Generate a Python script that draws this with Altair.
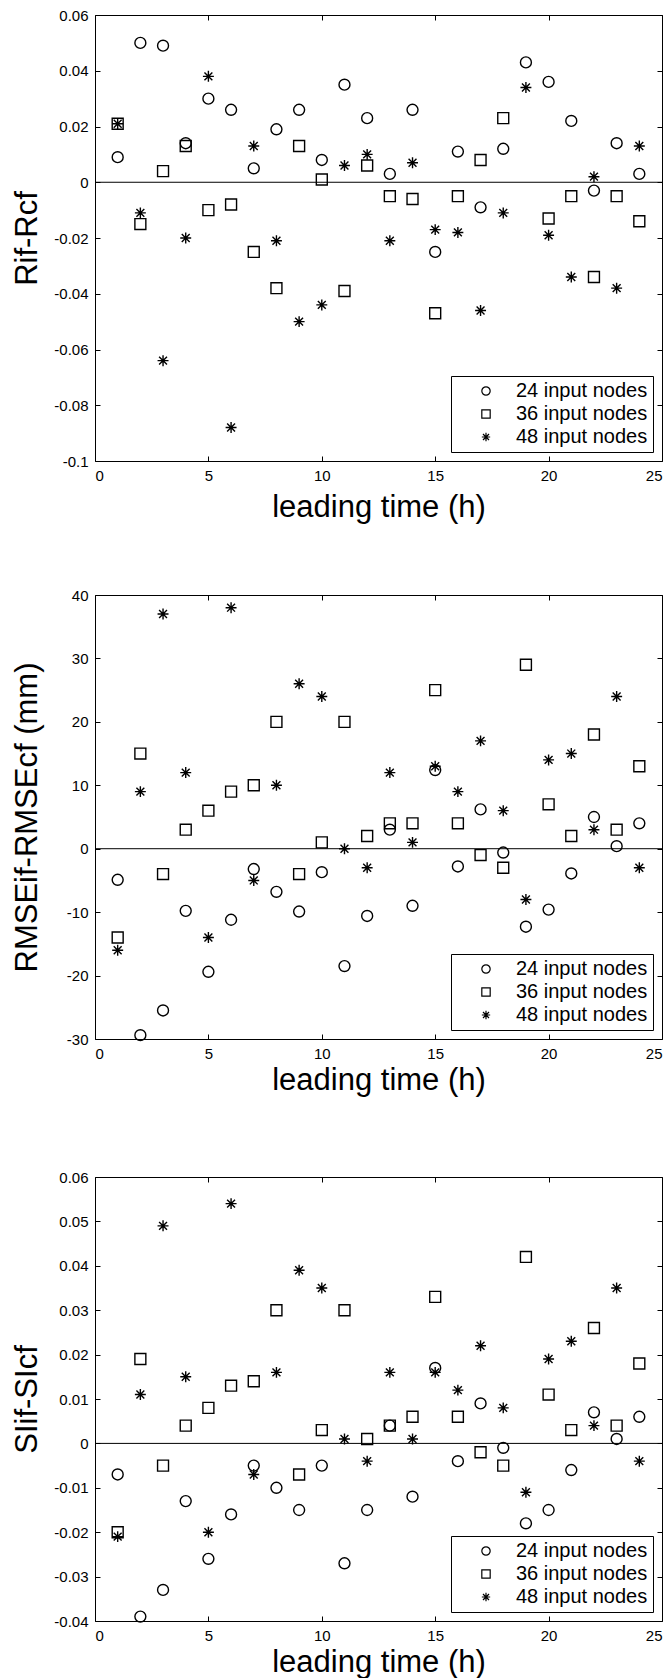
import altair as alt
import pandas as pd

# ---------------- data ----------------
hours = list(range(1, 25))
series_names = ["24 input nodes", "36 input nodes", "48 input nodes"]

# Panel 1: Rif-Rcf
r_24 = [0.009, 0.050, 0.049, 0.014, 0.030, 0.026, 0.005, 0.019, 0.026, 0.008, 0.035, 0.023,
        0.003, 0.026, -0.025, 0.011, -0.009, 0.012, 0.043, 0.036, 0.022, -0.003, 0.014, 0.003]
r_36 = [0.021, -0.015, 0.004, 0.013, -0.010, -0.008, -0.025, -0.038, 0.013, 0.001, -0.039, 0.006,
        -0.005, -0.006, -0.047, -0.005, 0.008, 0.023, None, -0.013, -0.005, -0.034, -0.005, -0.014]
r_48 = [0.021, -0.011, -0.064, -0.020, 0.038, -0.088, 0.013, -0.021, -0.050, -0.044, 0.006, 0.010,
        -0.021, 0.007, -0.017, -0.018, -0.046, -0.011, 0.034, -0.019, -0.034, 0.002, -0.038, 0.013]

# Panel 2: RMSEif-RMSEcf (mm)
e_24 = [-4.9, -29.4, -25.5, -9.8, -19.4, -11.2, -3.2, -6.8, -9.9, -3.7, -18.5, -10.6,
        3.0, -9.0, 12.4, -2.8, 6.2, -0.6, -12.3, -9.6, -3.9, 5.0, 0.4, 4.0]
e_36 = [-14, 15, -4, 3, 6, 9, 10, 20, -4, 1, 20, 2,
        4, 4, 25, 4, -1, -3, 29, 7, 2, 18, 3, 13]
e_48 = [-16, 9, 37, 12, -14, 38, -5, 10, 26, 24, 0, -3,
        12, 1, 13, 9, 17, 6, -8, 14, 15, 3, 24, -3]

# Panel 3: SIif-SIcf
s_24 = [-0.007, -0.039, -0.033, -0.013, -0.026, -0.016, -0.005, -0.010, -0.015, -0.005, -0.027, -0.015,
        0.004, -0.012, 0.017, -0.004, 0.009, -0.001, -0.018, -0.015, -0.006, 0.007, 0.001, 0.006]
s_36 = [-0.020, 0.019, -0.005, 0.004, 0.008, 0.013, 0.014, 0.030, -0.007, 0.003, 0.030, 0.001,
        0.004, 0.006, 0.033, 0.006, -0.002, -0.005, 0.042, 0.011, 0.003, 0.026, 0.004, 0.018]
s_48 = [-0.021, 0.011, 0.049, 0.015, -0.020, 0.054, -0.007, 0.016, 0.039, 0.035, 0.001, -0.004,
        0.016, 0.001, 0.016, 0.012, 0.022, 0.008, -0.011, 0.019, 0.023, 0.004, 0.035, -0.004]

x_ticks = [0, 5, 10, 15, 20, 25]
r_ticks = [-0.1, -0.08, -0.06, -0.04, -0.02, 0, 0.02, 0.04, 0.06]
e_ticks = [-30, -20, -10, 0, 10, 20, 30, 40]
s_ticks = [-0.04, -0.03, -0.02, -0.01, 0, 0.01, 0.02, 0.03, 0.04, 0.05, 0.06]

# ---------------- helpers ----------------
FONT = "Liberation Sans"
STAR = "M-1,0L1,0M0,-1L0,1M-0.72,-0.72L0.72,0.72M-0.72,0.72L0.72,-0.72"
W = 567


def long_df(a, b, c):
    rows = []
    for name, vals in zip(series_names, (a, b, c)):
        for h, v in zip(hours, vals):
            if v is not None:
                rows.append({"h": h, "v": v, "series": name})
    return pd.DataFrame(rows)


LABEL_EXPR = "replace(format(datum.value, '~g'), '\u2212', '-')"


def panel(df, ytitle, ydomain, yticks, height, xtitle_y):
    xs = alt.Scale(domain=[0, 25], nice=False, zero=False)
    ys = alt.Scale(domain=ydomain, nice=False, zero=False)
    pts = alt.Chart(df).mark_point(
        filled=False, strokeWidth=1.4, size=120, color="black", opacity=1
    ).encode(
        x=alt.X("h:Q", scale=xs, axis=alt.Axis(
            orient="bottom", values=x_ticks, offset=-5, tickSize=5, domain=False,
            grid=False, tickColor="black", tickWidth=1,
            labelPadding=7, labelFont=FONT, labelFontSize=15, labelColor="black",
            labelExpr=LABEL_EXPR,
            title="leading time (h)", titleFont=FONT, titleFontSize=31,
            titleFontWeight="normal", titleColor="black",
            titleBaseline="alphabetic", titleY=xtitle_y)),
        y=alt.Y("v:Q", scale=ys, axis=alt.Axis(
            orient="left", values=yticks, offset=-5, tickSize=5, domain=False,
            grid=False, tickColor="black", tickWidth=1,
            labelPadding=7, labelFont=FONT, labelFontSize=15, labelColor="black",
            labelExpr=LABEL_EXPR,
            title=ytitle, titleFont=FONT, titleFontSize=31,
            titleFontWeight="normal", titleColor="black",
            titleAngle=270, titleBaseline="alphabetic", titleX=-64)),
        shape=alt.Shape("series:N",
                        scale=alt.Scale(domain=series_names, range=["circle", "square", STAR]),
                        legend=alt.Legend(title=None, labelExpr="datum.label + '\u00a0\u00a0'")),
    )
    zero = alt.Chart(pd.DataFrame({"z": [0]})).mark_rule(color="black", strokeWidth=1).encode(
        x=alt.XDatum(0, axis=alt.Axis(
            orient="top", values=x_ticks, offset=-5, tickSize=5, domain=False, labels=False,
            grid=False, tickColor="black", title=None)),
        x2=alt.X2Datum(25),
        y=alt.YDatum(0, axis=alt.Axis(
            orient="right", values=yticks, offset=-5, tickSize=5, domain=False, labels=False,
            grid=False, tickColor="black", title=None)),
    )
    return alt.layer(zero, pts).resolve_axis(x="independent", y="independent").properties(
        width=W, height=height)


p1 = panel(long_df(r_24, r_36, r_48), "Rif-Rcf", [-0.1, 0.06], r_ticks, 446, 60)
p2 = panel(long_df(e_24, e_36, e_48), "RMSEif-RMSEcf (mm)", [-30, 40], e_ticks, 444, 55)
p3 = panel(long_df(s_24, s_36, s_48), "SIif-SIcf", [-0.04, 0.06], s_ticks, 444, 55)

top = alt.vconcat(p1, p2, spacing=64).resolve_scale(shape="independent").resolve_legend(shape="independent")
chart = alt.vconcat(top, p3, spacing=73).resolve_scale(shape="independent").resolve_legend(shape="independent")

chart = chart.configure(
    padding={"left": 2, "top": -1, "right": 0, "bottom": 0},
    font=FONT,
    background="white",
).configure_view(
    stroke="black", strokeWidth=1
).configure_legend(
    orient="bottom-right", offset=9, strokeColor="black", fillColor="white",
    padding=5, labelFont=FONT, labelFontSize=20, labelColor="black",
    symbolStrokeColor="black", symbolStrokeWidth=1.2, symbolSize=70,
    symbolOffset=20, labelOffset=20, rowPadding=3, symbolFillColor="transparent",
)

chart.save("out.html", embed_options={"renderer": "svg", "actions": False})
